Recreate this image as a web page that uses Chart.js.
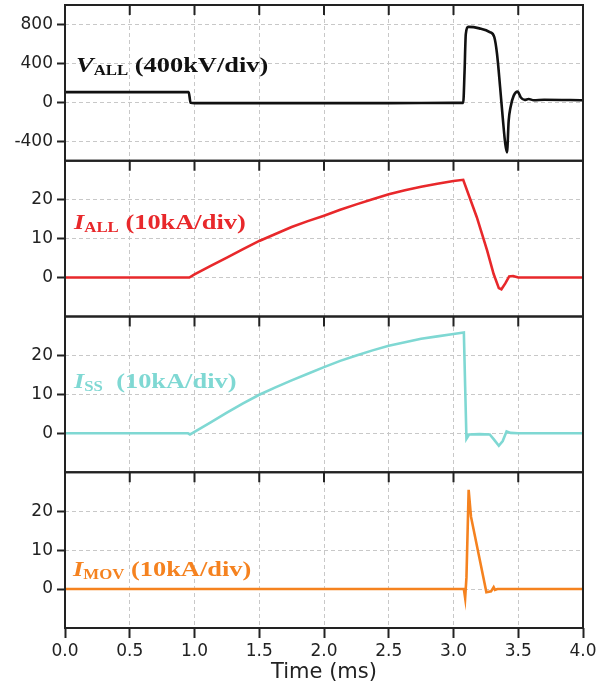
<!DOCTYPE html>
<html>
<head>
<meta charset="utf-8">
<script src="https://cdn.jsdelivr.net/npm/chart.js@4.4.0/dist/chart.umd.min.js"></script>
<style>
    body { margin: 0; background: #fff; }
    #wrap { position: relative; width: 596px; height: 688px; }
    .lab {
        position: absolute;
        font-family: "Liberation Serif", "Times New Roman", serif;
        font-weight: bold;
        font-size: 22px;
        line-height: 22px;
        white-space: nowrap;
        transform: scaleX(1.2);
        transform-origin: left top;
    }
    .lab sub { font-size: 14px; vertical-align: baseline; position: relative; top: 3px; }
</style>
</head>
<body>
<div id="wrap">
    <canvas id="chart" width="596" height="688"></canvas>
    <div class="lab" style="left:76px;top:54px;color:#111"><i>V</i><sub>ALL</sub> (400kV/div)</div>
    <div class="lab" style="left:74px;top:211px;color:#e8282b"><i>I</i><sub>ALL</sub> (10kA/div)</div>
    <div class="lab" style="left:74px;top:370px;color:#7fd8d3"><i>I</i><sub>SS</sub>&nbsp; (10kA/div)</div>
    <div class="lab" style="left:73px;top:558px;color:#f5821f"><i>I</i><sub>MOV</sub> (10kA/div)</div>
</div>
<script>
// time axis (ms) and tick values
const xTicks = [0, 0.5, 1, 1.5, 2, 2.5, 3, 3.5, 4];
const vTicks = [-400, 0, 400, 800];
const iTicks = [0, 10, 20];

// V_ALL (kV)
const vTime = [0, 0.955, 0.97, 1.0, 1.5, 2.0, 2.5, 3.0, 3.075, 3.085, 3.095, 3.115, 3.2, 3.28, 3.315, 3.336, 3.36, 3.38, 3.40, 3.413, 3.426, 3.44, 3.465, 3.495, 3.52, 3.55, 3.58, 3.62, 3.7, 4.0];
const vVals = [105, 105, -5, -8, -8, -8, -8, -5, -5, 300, 700, 775, 760, 722, 670, 499, 155, -155, -430, -515, -190, -52, 69, 110, 50, 25, 34, 22, 27, 22];

// I_ALL (kA)
const iAllTime = [0, 0.96, 1.0, 1.125, 1.25, 1.375, 1.5, 1.625, 1.75, 1.875, 2.0, 2.125, 2.25, 2.375, 2.5, 2.625, 2.75, 2.875, 3.0, 3.075, 3.18, 3.26, 3.31, 3.35, 3.37, 3.40, 3.43, 3.46, 3.5, 4.0];
const iAllVals = [0, 0, 0.8, 3.0, 5.1, 7.3, 9.4, 11.2, 13.0, 14.5, 15.9, 17.4, 18.8, 20.1, 21.4, 22.4, 23.3, 24.1, 24.8, 25.1, 15.5, 6.9, 0.9, -2.7, -3.0, -1.5, 0.3, 0.4, 0, 0];

// I_SS (kA)
const iSsTime = [0, 0.95, 0.965, 0.98, 1.125, 1.25, 1.375, 1.5, 1.625, 1.75, 1.875, 2.0, 2.125, 2.25, 2.375, 2.5, 2.625, 2.75, 2.875, 3.0, 3.08, 3.09, 3.10, 3.12, 3.2, 3.28, 3.31, 3.35, 3.38, 3.41, 3.44, 3.5, 4.0];
const iSsVals = [0, 0, -0.3, 0, 2.8, 5.3, 7.7, 9.9, 11.8, 13.6, 15.3, 17.0, 18.6, 20.0, 21.3, 22.5, 23.4, 24.3, 24.9, 25.5, 25.9, 12, -1.4, -0.3, -0.2, -0.3, -1.5, -3.2, -2.0, 0.5, 0.1, 0, 0];

// I_MOV (kA)
const iMovTime = [0, 3.08, 3.09, 3.10, 3.117, 3.135, 3.254, 3.29, 3.31, 3.32, 3.34, 4.0];
const iMovVals = [0, 0, -2.3, 3, 25.5, 18.6, -0.8, -0.6, 0.5, -0.2, 0, 0];

const panelIds = ['yV', 'yAll', 'ySs', 'yMov'];
const tickFont = { family: 'DejaVu Sans', size: 17 };
const gridStyle = {
    color: '#c8c8c8',
    lineWidth: 1,
    tickColor: '#222',
    tickWidth: 2,
    tickBorderDash: []
};

function toPts(t, v) {
    return t.map((x, i) => ({ x: x, y: v[i] }));
}

function yScale(min, max, ticks) {
    return {
        type: 'linear',
        position: 'left',
        stack: 'panels',
        stackWeight: 1,
        min: min,
        max: max,
        afterBuildTicks: s => { s.ticks = ticks.map(v => ({ value: v })); },
        afterFit: s => { s.width = 65; s.paddingTop = 0; s.paddingBottom = 0; },
        border: { display: false, dash: [4, 3] },
        grid: Object.assign({ tickLength: 8 }, gridStyle),
        ticks: { color: '#222', font: tickFont, padding: 4 }
    };
}

// frames round each panel, and the inward ticks on each panel's top edge
const framePlugin = {
    id: 'frames',
    afterDraw(chart) {
        const { ctx, chartArea, scales } = chart;
        const xs = scales.x;
        ctx.save();
        ctx.strokeStyle = '#222';
        ctx.lineWidth = 2;
        panelIds.forEach(id => {
            const s = scales[id];
            ctx.strokeRect(chartArea.left, s.top, chartArea.right - chartArea.left, s.bottom - s.top);
            ctx.beginPath();
            xs.ticks.forEach(t => {
                const px = xs.getPixelForValue(t.value);
                ctx.moveTo(px, s.top);
                ctx.lineTo(px, s.top + 10);
            });
            ctx.stroke();
        });
        ctx.restore();
    }
};

new Chart(document.getElementById('chart'), {
    type: 'line',
    data: {
        datasets: [
            { data: toPts(vTime, vVals), yAxisID: 'yV', borderColor: '#111', cubicInterpolationMode: 'monotone' },
            { data: toPts(iAllTime, iAllVals), yAxisID: 'yAll', borderColor: '#e8282b' },
            { data: toPts(iSsTime, iSsVals), yAxisID: 'ySs', borderColor: '#7fd8d3' },
            { data: toPts(iMovTime, iMovVals), yAxisID: 'yMov', borderColor: '#f5821f' }
        ]
    },
    options: {
        responsive: false,
        animation: false,
        layout: { padding: { top: 5, right: 13, left: 0, bottom: 0 } },
        elements: {
            point: { radius: 0 },
            line: { borderWidth: 2.6, tension: 0 }
        },
        plugins: {
            legend: { display: false },
            tooltip: { enabled: false }
        },
        scales: {
            x: {
                type: 'linear',
                position: 'bottom',
                min: 0,
                max: 4,
                afterBuildTicks: s => { s.ticks = xTicks.map(v => ({ value: v })); },
                afterFit: s => { s.height = 60; s.paddingLeft = 0; s.paddingRight = 0; },
                border: { display: false, dash: [4, 3] },
                grid: Object.assign({ tickLength: 10 }, gridStyle),
                ticks: {
                    color: '#222',
                    font: tickFont,
                    padding: 3,
                    maxRotation: 0,
                    callback: v => v.toFixed(1)
                },
                title: {
                    display: true,
                    text: 'Time (ms)',
                    color: '#222',
                    font: { family: 'DejaVu Sans', size: 21 },
                    padding: { top: 0, bottom: 3 }
                }
            },
            yMov: yScale(-10, 30, iTicks),
            ySs: yScale(-10, 30, iTicks),
            yAll: yScale(-10, 30, iTicks),
            yV: yScale(-600, 1000, vTicks)
        }
    },
    plugins: [framePlugin]
});
</script>
</body>
</html>
